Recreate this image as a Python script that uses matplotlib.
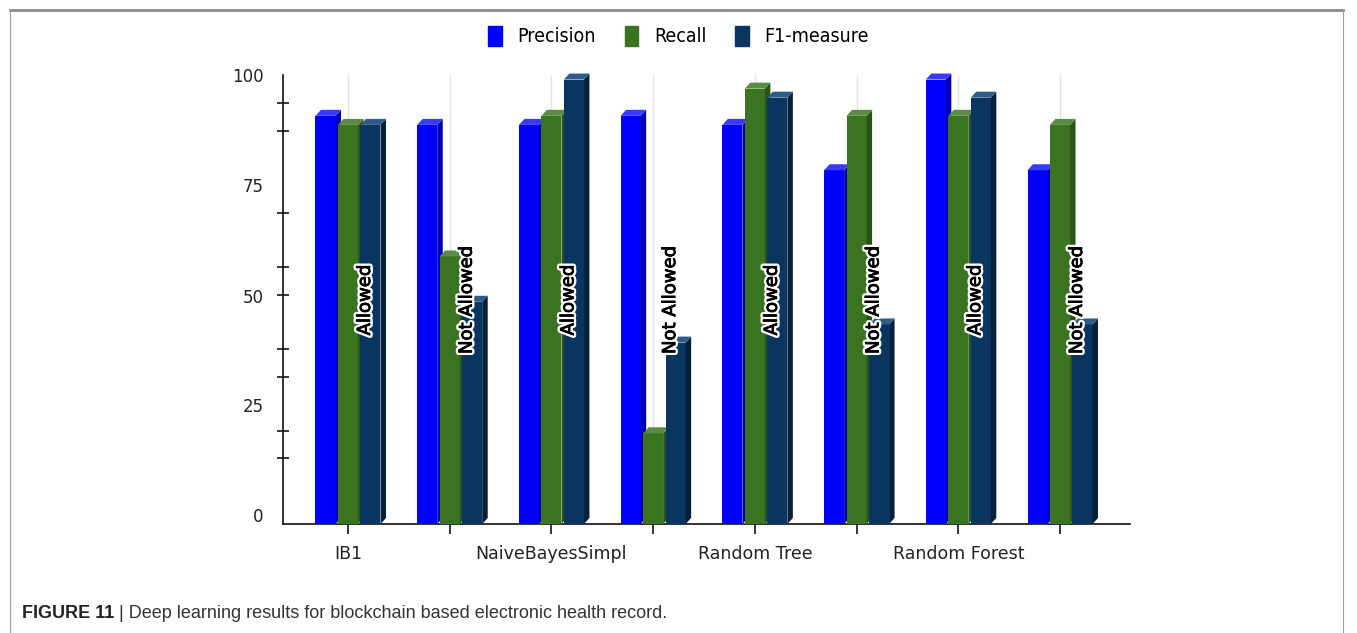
import matplotlib
matplotlib.use('Agg')
import numpy as np
import matplotlib.pyplot as plt
import matplotlib.patheffects as pe
from matplotlib.patches import Polygon, Patch
from matplotlib.lines import Line2D
from matplotlib.ticker import FixedLocator

plt.rcParams['font.family'] = 'DejaVu Sans'

# ── data ─────────────────────────────────────────────────────────────────────
tick_labels = ['IB1', '', 'NaiveBayesSimpl', '', 'Random Tree', '', 'Random Forest', '']
status      = ['Allowed', 'Not Allowed'] * 4
precision   = [90, 88, 88, 90, 88, 78, 98, 78]
recall      = [88, 59, 90, 20, 96, 90, 90, 88]
f1_measure  = [88, 49, 98, 40, 94, 44, 94, 44]

series = [
    ('Precision',  precision,  '#0000ff', '#3a3aff', '#0000b0'),
    ('Recall',     recall,     '#3a7420', '#5b8c45', '#2a5417'),
    ('F1-measure', f1_measure, '#0a3560', '#2e5b87', '#061f3b'),
]

W, H = 1357, 633
fig = plt.figure(figsize=(W / 100, H / 100), dpi=100, facecolor='white')

# frame round the figure
fig.add_artist(Line2D([10 / W, 1343 / W], [1 - 10 / H, 1 - 10 / H],
                      color='#8a8a8a', lw=2))
fig.add_artist(Line2D([10 / W, 10 / W], [0, 1 - 10 / H], color='#a0a0a0', lw=0.8))
fig.add_artist(Line2D([1343 / W, 1343 / W], [0, 1 - 10 / H], color='#a0a0a0', lw=0.8))

ax = fig.add_axes([283 / W, 1 - 524 / H, (1130 - 283) / W, (524 - 75) / H])
ax.set_xlim(-0.639, 7.688)
ax.set_ylim(0, 99)

x = np.arange(len(tick_labels))
step = 0.221      # distance between bars in a group
w = 0.197         # front face width
dx, dy = 0.054, 1.32   # 3d depth

z = 3
for j, (name, vals, front, top, side) in enumerate(series):
    xs = x + (j - 1) * step
    bars = ax.bar(xs, vals, width=w, color=front, zorder=z, linewidth=0)
    for b in bars:
        x0, x1, h = b.get_x(), b.get_x() + b.get_width(), b.get_height()
        ax.add_patch(Polygon([(x1, 0), (x1 + dx, dy), (x1 + dx, h + dy), (x1, h)],
                             closed=True, fc=side, ec='none', zorder=z, clip_on=False))
        ax.add_patch(Polygon([(x0, h), (x0 + dx, h + dy), (x1 + dx, h + dy), (x1, h)],
                             closed=True, fc=top, ec='none', zorder=z, clip_on=False))
    z += 1

for i, s in enumerate(status):
    ax.text(x[i] + 0.167, 49.4, s, rotation=90, ha='center', va='center',
            fontsize=13, color='black', zorder=10,
            path_effects=[pe.withStroke(linewidth=4, foreground='white'),
                          pe.withStroke(linewidth=0.6, foreground='black')])

# axes styling
for sp in ['top', 'right']:
    ax.spines[sp].set_visible(False)
for sp in ['left', 'bottom']:
    ax.spines[sp].set_linewidth(1.2)
    ax.spines[sp].set_color('#111111')

ax.set_xticks(x)
ax.set_xticklabels(tick_labels, fontsize=12.5, color='#222222')
ax.tick_params(axis='x', direction='out', length=7, width=1.1, pad=8)
ax.grid(axis='x', color='#e4e4e4', lw=1)
ax.set_axisbelow(True)

ax.set_yticks([2, 26.2, 50.3, 74.7, 99])
ax.set_yticklabels(['0', '25', '50', '75', '100'], fontsize=12, color='#222222')
ax.tick_params(axis='y', which='major', length=0, pad=14)
ax.yaxis.set_minor_locator(FixedLocator([14.5, 20.5, 32.5, 38.5, 50.5,
                                         56.6, 68.6, 74.7, 86.7, 92.9]))
ax.tick_params(axis='y', which='minor', direction='inout', length=8, width=1.1)

handles = [Patch(facecolor=s[2], edgecolor=s[2]) for s in series]
fig.legend(handles, [s[0] for s in series], loc='center',
           bbox_to_anchor=(0.5, 1 - 36 / H), ncol=3, frameon=False,
           handlelength=0.7, handleheight=1.25, handletextpad=0.8,
           columnspacing=1.5, prop={'size': 14, 'stretch': 'condensed'})

# caption
t1 = fig.text(22 / W, 1 - 613 / H, 'FIGURE 11', fontsize=13, fontweight='bold',
              color='#222222', va='center', ha='left', family='Liberation Sans')
fig.canvas.draw()
bb = t1.get_window_extent()
fig.text((bb.x1 + 5) / W, 1 - 613 / H,
         '| Deep learning results for blockchain based electronic health record.',
         fontsize=13, color='#333333', va='center', ha='left', family='Liberation Sans')

fig.savefig('out.png', dpi=100, facecolor='white')
